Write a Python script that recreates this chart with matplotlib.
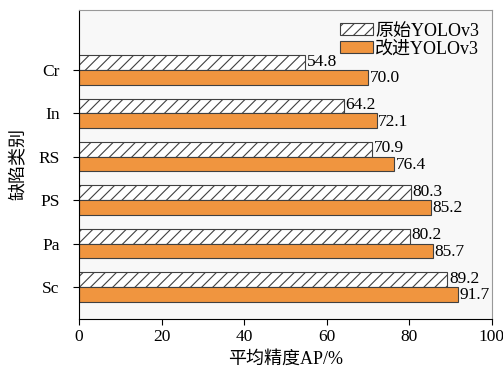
import numpy as np
import matplotlib.pyplot as plt
from matplotlib.patches import Patch

plt.rcParams['font.family'] = ['Liberation Serif', 'Noto Sans CJK SC']
plt.rcParams['hatch.color'] = '#404040'
plt.rcParams['hatch.linewidth'] = 0.8

# defect classes, bottom to top
cats = ['Sc', 'Pa', 'PS', 'RS', 'In', 'Cr']
ap_orig = [89.2, 80.2, 80.3, 70.9, 64.2, 54.8]
ap_impr = [91.7, 85.7, 85.2, 76.4, 72.1, 70.0]

fig = plt.figure(figsize=(5.03, 3.68), dpi=100)
ax = fig.add_axes([0.157, 0.133, 0.821, 0.840])
ax.set_facecolor('#f8f8f8')

y = np.arange(len(cats))
h = 0.34
b1 = ax.barh(y + h / 2, ap_orig, height=h, color='white', edgecolor='#404040',
             hatch='///', linewidth=0.8)
b2 = ax.barh(y - h / 2, ap_impr, height=h, color='#f0953f', edgecolor='#404040',
             linewidth=0.8)

for yy, v in zip(y, ap_orig):
    ax.text(v + 0.4, yy + h / 2 + 0.02, f'{v:.1f}', va='center', ha='left', fontsize=12.5)
for yy, v in zip(y, ap_impr):
    ax.text(v + 0.4, yy - h / 2 - 0.02, f'{v:.1f}', va='center', ha='left', fontsize=12.5)

ax.set_xlim(0, 100)
ax.set_ylim(-0.74, 6.38)
ax.set_xticks([0, 20, 40, 60, 80, 100])
ax.set_yticks(y)
ax.set_yticklabels(cats)
ax.tick_params(labelsize=12.5, length=4, width=0.8)
ax.tick_params(axis='y', pad=10)
ax.set_xlabel('平均精度AP/%', fontsize=13, labelpad=4)
ax.set_ylabel('缺陷类别', fontsize=13, labelpad=8)

for s in ['top', 'right']:
    ax.spines[s].set_color('#999999')
for s in ['left', 'bottom']:
    ax.spines[s].set_color('black')

handles = [Patch(facecolor='white', edgecolor='#404040', hatch='///', linewidth=0.8),
           Patch(facecolor='#f0953f', edgecolor='#404040', linewidth=0.8)]
ax.legend(handles, ['原始YOLOv3', '改进YOLOv3'], loc='upper right', frameon=False,
          fontsize=13, handlelength=1.8, handleheight=0.6, handletextpad=0.15,
          labelspacing=0.05, borderaxespad=0.5, borderpad=0.2)

fig.savefig('out.png', dpi=100)
